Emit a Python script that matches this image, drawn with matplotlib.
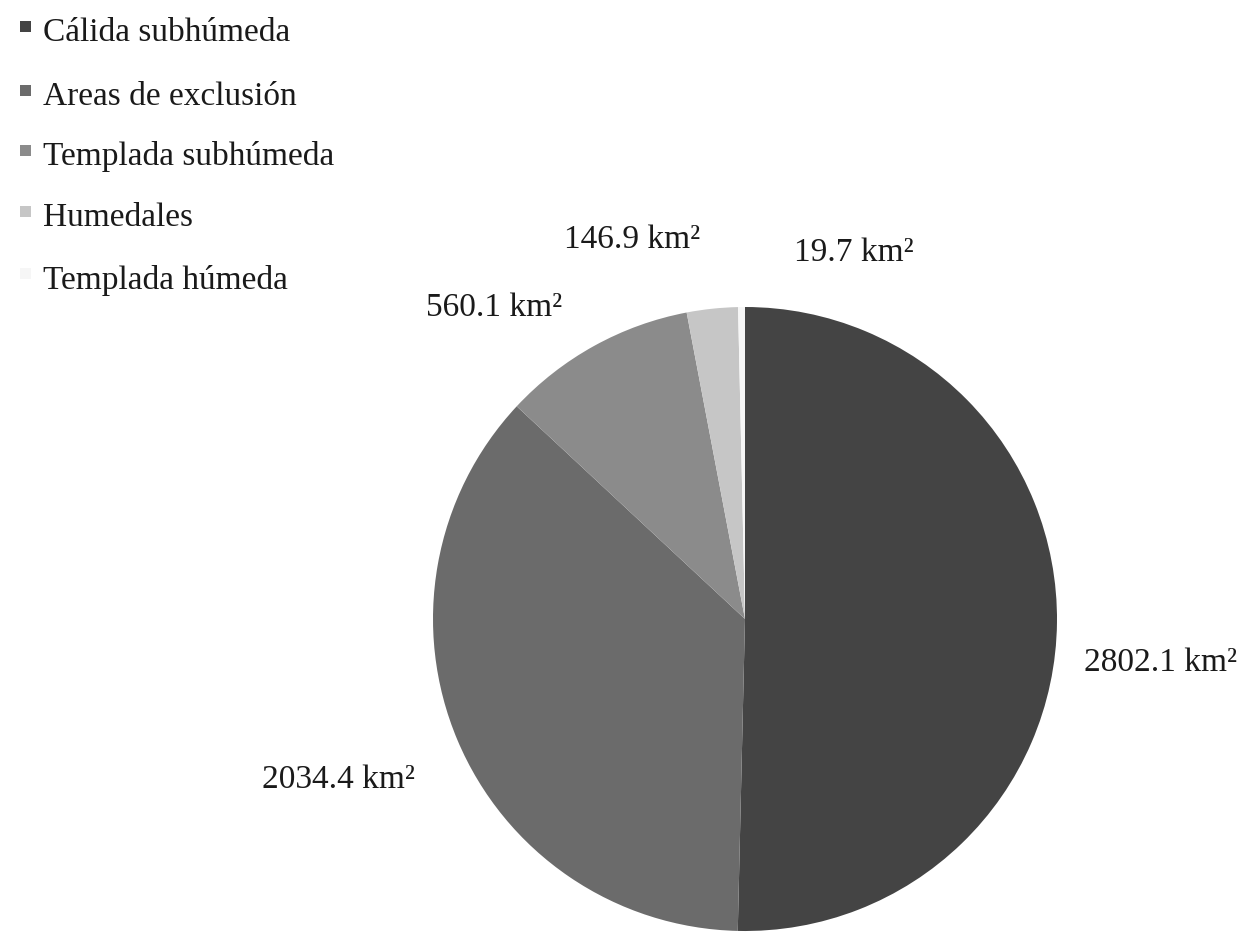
import numpy as np
import matplotlib

matplotlib.use("Agg")
import matplotlib.pyplot as plt
from matplotlib.patches import Rectangle

plt.rcParams["font.family"] = ["Liberation Serif", "DejaVu Serif"]

# data, clockwise from 12 o'clock
categories = ["Cálida subhúmeda", "Areas de exclusión", "Templada subhúmeda",
              "Humedales", "Templada húmeda"]
areas_km2 = [2802.1, 2034.4, 560.1, 146.9, 19.7]
colors = ["#444444", "#6b6b6b", "#8b8b8b", "#c6c6c6", "#f6f6f6"]

# label anchors in units of pie radius
label_xy = [(1.333, -0.141), (-1.304, -0.516), (-0.804, 0.997),
            (-0.362, 1.215), (0.349, 1.173)]

W, H = 1247, 933
fig = plt.figure(figsize=(W / 100, H / 100), dpi=100)

cx, cy, r = 745, 619, 312
ax = fig.add_axes([(cx - r) / W, (H - cy - r) / H, 2 * r / W, 2 * r / H])
ax.pie(areas_km2, colors=colors, startangle=90, counterclock=False,
       radius=1.0, wedgeprops=dict(linewidth=0))
ax.set_xlim(-1, 1)
ax.set_ylim(-1, 1)
ax.set_aspect("equal")
ax.axis("off")

for v, (lx, ly) in zip(areas_km2, label_xy):
    ax.text(lx, ly, f"{v:.1f} km²", ha="center", va="center",
            fontsize=24, color="#1a1a1a", clip_on=False)

# legend drawn by hand: small square marker + serif text
leg_y = [33, 97, 157, 218, 280]
for name, col, y in zip(categories, colors, leg_y):
    fig.patches.append(Rectangle((20 / W, 1 - (y - 1) / H), 11 / W, 11 / H,
                                 transform=fig.transFigure, color=col,
                                 linewidth=0))
    fig.text(43 / W, 1 - y / H, name, ha="left", va="center",
             fontsize=24, color="#1a1a1a")

fig.savefig("out.png", dpi=100)
